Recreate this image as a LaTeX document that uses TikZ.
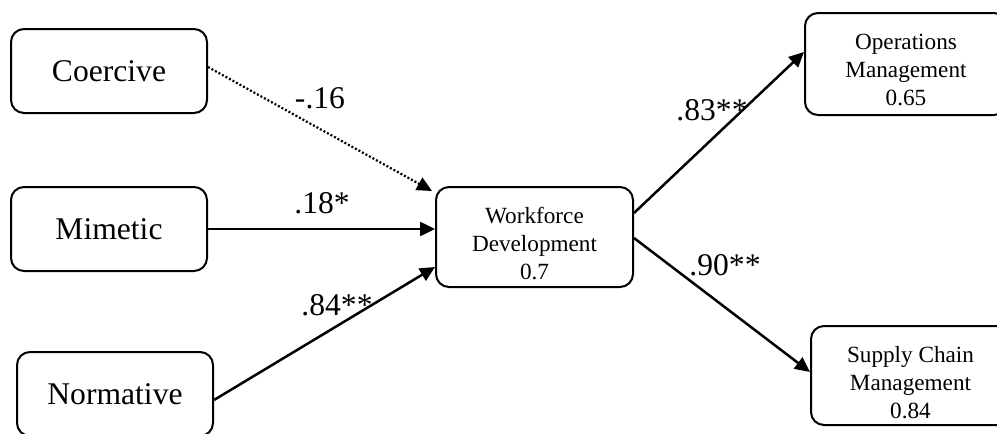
\documentclass[tikz,border=0pt]{standalone}
\usepackage{fontspec}
\setmainfont{Liberation Serif}
\usetikzlibrary{arrows.meta,calc}
\begin{document}
\begin{tikzpicture}[x=1pt,y=-1pt,
  box/.style={draw,line width=2pt,rounded corners=13pt,inner sep=0pt,align=center},
  bigtxt/.style={font=\fontsize{31.6}{36}\selectfont},
  smalltxt/.style={font=\fontsize{23.2}{28}\selectfont,inner sep=0pt,align=center},
  path/.style={line width=2.5pt,-{Triangle[length=15pt,width=14pt]}},
  weak/.style={line width=2.2pt,dash pattern=on 2pt off 2pt,-{Triangle[length=15pt,width=14pt]}},
  coef/.style={font=\fontsize{31.6}{36}\selectfont,inner sep=0pt}]
\useasboundingbox (0,0) rectangle (997,434);
\fill[white] (0,0) rectangle (997,434);

% antecedents
\node[box,bigtxt,minimum width=196pt,minimum height=84pt] (coer) at (109,71) {Coercive};
\node[box,bigtxt,minimum width=196pt,minimum height=84pt] (mim) at (109,229) {Mimetic};
\node[box,bigtxt,minimum width=196pt,minimum height=84pt] (norm) at (115,394) {Normative};

% mediator
\node[box,minimum width=197pt,minimum height=100pt] (wf) at (534.5,237) {};
\node[smalltxt] (wftxt) at ($(wf.center)+(0,6)$) {Workforce\\Development\\0.7};

% outcomes
\node[box,minimum width=202pt,minimum height=102pt] (ops) at (906,64) {};
\node[smalltxt] (opstxt) at ($(ops.center)+(0,6)$) {Operations\\Management\\0.65};
\node[box,minimum width=199pt,minimum height=99pt] (sc) at (910.5,375.5) {};
\node[smalltxt] (sctxt) at ($(sc.center)+(0,7)$) {Supply Chain\\Management\\0.84};

% paths
\draw[weak] ($(coer.east)+(0,-4)$) -- ($(wf.north west)+(-3,5)$);
\draw[path] (mim.east) -- (mim.east -| wf.west);
\draw[path] ($(norm.east)+(0,6)$) -- ($(wf.south west)+(0,-21)$);
\draw[path] ($(wf.east)+(0,-24)$) -- ($(ops.west)+(0,-12)$);
\draw[path] ($(wf.east)+(0,1)$) -- ($(sc.west)+(0,-3.5)$);

% path coefficients
\node[coef] (c1) at (320,98) {-.16};
\node[coef] (c2) at (322,203) {.18*};
\node[coef] (c3) at (337,305) {.84**};
\node[coef] (c4) at (712,110) {.83**};
\node[coef] (c5) at (725,265) {.90**};
\end{tikzpicture}
\end{document}
